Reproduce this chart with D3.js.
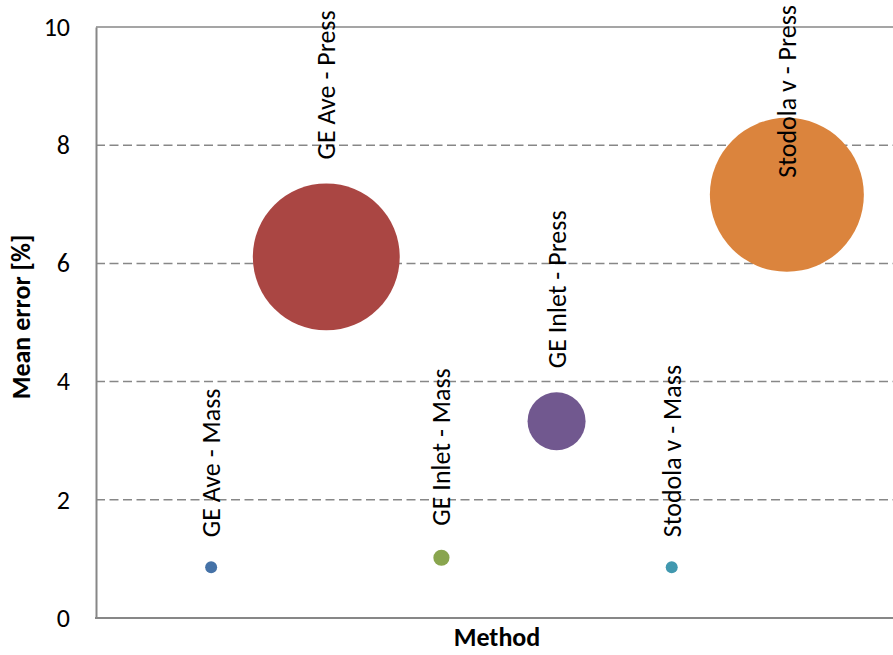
<!DOCTYPE html>
<html>
<head>
<meta charset="utf-8">
<script src="https://cdn.jsdelivr.net/npm/d3@7"></script>
<style>
  body { margin: 0; background: #fff; }
  text { font-family: Carlito, "Open Sans", sans-serif; }
</style>
</head>
<body>
<div id="chart"></div>
<script>
// data
var methods = ["GE Ave - Mass", "GE Ave - Press", "GE Inlet - Mass", "GE Inlet - Press", "Stodola v - Mass", "Stodola v - Press"];
var xPos = [1, 2, 3, 4, 5, 6];
var meanError = [0.86, 6.11, 1.02, 3.33, 0.86, 7.16];
var bubbleSize = [0.6, 91, 1.1, 14.2, 0.6, 100];
var colors = ["#4572a7", "#aa4643", "#89a54e", "#71588f", "#4198af", "#db843d"];
var yTicks = [0, 2, 4, 6, 8, 10];

var svgWidth = 893, svgHeight = 655;
var margin = {top: 27, left: 96, bottom: 37};

var svg = d3.select("#chart").append("svg")
  .attr("width", svgWidth)
  .attr("height", svgHeight);

var plotH = svgHeight - margin.top - margin.bottom;

var x = d3.scaleLinear().domain([0, 7]).range([margin.left, margin.left + 806]);
var y = d3.scaleLinear().domain([0, 10]).range([margin.top + plotH, margin.top]);
var r = d3.scaleSqrt().domain([0, 100]).range([0, 77]);

var rows = methods.map(function(m, i) {
  return {name: m, x: xPos[i], y: meanError[i], size: bubbleSize[i], color: colors[i]};
});

// dashed gridlines
svg.append("g").selectAll("line")
  .data(yTicks.filter(function(t) { return t > 0 && t < 10; }))
  .enter().append("line")
  .attr("x1", margin.left).attr("x2", svgWidth)
  .attr("y1", d => y(d)).attr("y2", d => y(d))
  .attr("stroke", "#878787")
  .attr("stroke-width", 1.5)
  .attr("stroke-dasharray", "9,4.5");

// top border
svg.append("line")
  .attr("x1", margin.left).attr("x2", svgWidth)
  .attr("y1", y(10)).attr("y2", y(10))
  .attr("stroke", "#878787").attr("stroke-width", 1.5);

// y axis
var leftAxis = d3.axisLeft(y).tickValues(yTicks).tickSize(0).tickPadding(26);
var gy = svg.append("g")
  .attr("transform", `translate(${margin.left}, 0)`)
  .call(leftAxis);
gy.select(".domain").attr("stroke", "#878787").attr("stroke-width", 2);
gy.selectAll("text")
  .attr("font-size", "26px")
  .attr("fill", "#000")
  .attr("font-family", 'Carlito, "Open Sans", sans-serif');

// bottom axis line (no tick labels)
svg.append("line")
  .attr("x1", margin.left - 1).attr("x2", svgWidth)
  .attr("y1", y(0)).attr("y2", y(0))
  .attr("stroke", "#878787").attr("stroke-width", 2);

// bubbles
svg.append("g").selectAll("circle")
  .data(rows)
  .enter().append("circle")
  .attr("cx", d => x(d.x))
  .attr("cy", d => y(d.y))
  .attr("r", d => Math.max(r(d.size), 6))
  .attr("fill", d => d.color);

// data labels, rotated, above the bubble, kept inside the picture
var labels = svg.append("g").selectAll("text")
  .data(rows)
  .enter().append("text")
  .attr("font-size", "26px")
  .attr("fill", "#000")
  .attr("dominant-baseline", "central")
  .text(d => d.name);

labels.each(function(d) {
  var len = this.getComputedTextLength();
  var bottom = y(d.y) - Math.max(r(d.size), 6) - 24;
  if (bottom - len < 5) bottom = 5 + len;
  d3.select(this).attr("transform", `translate(${x(d.x)}, ${bottom}) rotate(-90)`);
});

// axis titles
svg.append("text")
  .attr("transform", `translate(21, ${317}) rotate(-90)`)
  .attr("text-anchor", "middle")
  .attr("dominant-baseline", "central")
  .attr("font-size", "26px")
  .attr("font-weight", "bold")
  .text("Mean error [%]");

svg.append("text")
  .attr("x", 497)
  .attr("y", 646)
  .attr("text-anchor", "middle")
  .attr("font-size", "26px")
  .attr("font-weight", "bold")
  .text("Method");
</script>
</body>
</html>
